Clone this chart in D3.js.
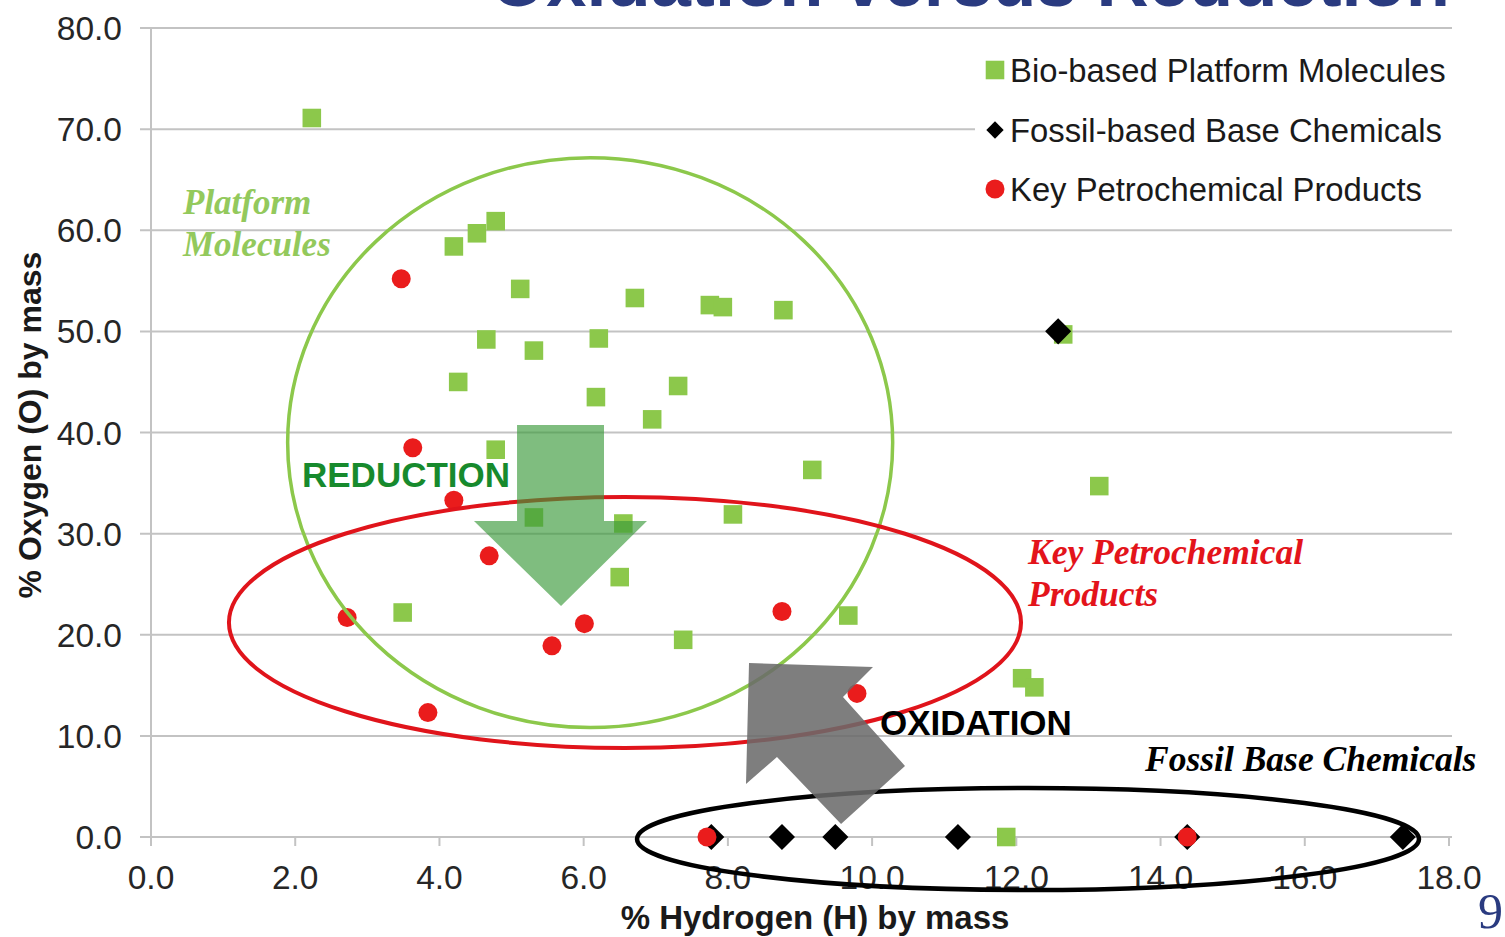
<!DOCTYPE html>
<html>
<head>
<meta charset="utf-8">
<script src="https://cdn.jsdelivr.net/npm/d3@7"></script>
<style>
	body { margin: 0; background: #fff; }
	svg { display: block; }
</style>
</head>
<body>
<svg id="chart"></svg>
<script>
// % H by mass, % O by mass
const bioPoints = [
	[2.23, 71.1], [4.2, 58.4], [4.52, 59.7], [4.78, 60.9], [5.12, 54.2],
	[6.71, 53.3], [7.75, 52.6], [7.93, 52.4], [8.77, 52.1], [4.65, 49.2],
	[5.31, 48.1], [6.21, 49.3], [4.26, 45.0], [6.17, 43.5], [7.31, 44.6],
	[6.95, 41.3], [4.78, 38.3], [9.17, 36.3], [13.15, 34.7], [5.31, 31.6],
	[6.55, 31.0], [8.07, 31.9], [6.5, 25.7], [3.49, 22.2], [7.38, 19.5],
	[9.67, 21.9], [12.08, 15.7], [12.25, 14.8], [11.86, 0.0], [12.65, 49.7]
];
const fossilPoints = [
	[12.58, 50.0], [7.77, 0.0], [8.75, 0.0], [9.49, 0.0],
	[11.19, 0.0], [14.37, 0.0], [17.36, 0.0]
];
const petroPoints = [
	[3.47, 55.2], [3.63, 38.5], [4.2, 33.3], [4.69, 27.8], [2.72, 21.7],
	[6.01, 21.1], [5.56, 18.9], [3.84, 12.3], [8.75, 22.3], [9.79, 14.2],
	[7.71, 0.0], [14.37, 0.0]
];
const seriesNames = [
	"Bio-based Platform Molecules",
	"Fossil-based Base Chemicals",
	"Key Petrochemical Products"
];
const xTicks = [0, 2, 4, 6, 8, 10, 12, 14, 16, 18];
const yTicks = [0, 10, 20, 30, 40, 50, 60, 70, 80];

const width = 1505;
const height = 937;
const sans = "'Liberation Sans', Arial, sans-serif";
const serif = "'Liberation Serif', 'Times New Roman', serif";
const green = "#8cc84b";
const red = "#ea1c1c";
const grid = "#c3c3c3";

const svg = d3.select("#chart").attr("width", width).attr("height", height);

const x = d3.scaleLinear().domain([0, 18]).range([151, 1449]);
const y = d3.scaleLinear().domain([0, 80]).range([837, 28]);

// title, cut off at the top of the slide
svg.append("text")
	.attr("x", 1450)
	.attr("y", 6)
	.attr("text-anchor", "end")
	.attr("font-family", sans)
	.attr("font-weight", "bold")
	.attr("font-size", 72)
	.attr("fill", "#2a3b80")
	.attr("textLength", 960)
	.attr("lengthAdjust", "spacingAndGlyphs")
	.text("Oxidation versus Reduction");

// grid + axes
svg.append("g")
	.selectAll("line")
	.data(yTicks)
	.join("line")
	.attr("x1", 140)
	.attr("x2", 1452)
	.attr("y1", d => y(d))
	.attr("y2", d => y(d))
	.attr("stroke", grid)
	.attr("stroke-width", 2);

svg.append("line")
	.attr("x1", x(0))
	.attr("x2", x(0))
	.attr("y1", y(80))
	.attr("y2", y(0) + 9)
	.attr("stroke", grid)
	.attr("stroke-width", 2);

svg.append("g")
	.selectAll("line")
	.data(xTicks.slice(1))
	.join("line")
	.attr("x1", d => x(d))
	.attr("x2", d => x(d))
	.attr("y1", y(0))
	.attr("y2", y(0) + 9)
	.attr("stroke", grid)
	.attr("stroke-width", 2);

svg.append("g")
	.selectAll("text")
	.data(yTicks)
	.join("text")
	.attr("x", 122)
	.attr("y", d => y(d))
	.attr("dy", "0.36em")
	.attr("text-anchor", "end")
	.attr("font-family", sans)
	.attr("font-size", 33.5)
	.attr("fill", "#262626")
	.text(d => d.toFixed(1));

svg.append("g")
	.selectAll("text")
	.data(xTicks)
	.join("text")
	.attr("x", d => x(d))
	.attr("y", 889)
	.attr("text-anchor", "middle")
	.attr("font-family", sans)
	.attr("font-size", 33.5)
	.attr("fill", "#262626")
	.text(d => d.toFixed(1));

svg.append("text")
	.attr("x", 815)
	.attr("y", 929)
	.attr("text-anchor", "middle")
	.attr("font-family", sans)
	.attr("font-weight", "bold")
	.attr("font-size", 33)
	.attr("fill", "#1a1a1a")
	.text("% Hydrogen (H) by mass");

svg.append("text")
	.attr("transform", "translate(41, 425) rotate(-90)")
	.attr("text-anchor", "middle")
	.attr("font-family", sans)
	.attr("font-weight", "bold")
	.attr("font-size", 32)
	.attr("fill", "#1a1a1a")
	.text("% Oxygen (O) by mass");

// region ellipses
const regions = [
	{ cx: 6.09, cy: 39.0, rx: 4.195, ry: 28.18, color: "#8cc84b", w: 3.5 },
	{ cx: 6.573, cy: 21.21, rx: 5.492, ry: 12.41, color: "#e0141b", w: 4 },
	{ cx: 12.162, cy: -0.2, rx: 5.422, ry: 5.04, color: "#000", w: 4.5 }
];

// markers
const square = d3.symbol().type(d3.symbolSquare).size(345);
const diamond = d3.symbol().type(d3.symbolSquare).size(340);

const marks = svg.append("g");

marks.selectAll(".bio")
	.data(bioPoints)
	.join("path")
	.attr("class", "bio")
	.attr("d", square)
	.attr("transform", d => `translate(${x(d[0])}, ${y(d[1])})`)
	.attr("fill", green);

marks.selectAll(".fossil")
	.data(fossilPoints)
	.join("path")
	.attr("class", "fossil")
	.attr("d", diamond)
	.attr("transform", d => `translate(${x(d[0])}, ${y(d[1])}) rotate(45)`)
	.attr("fill", "#000");

marks.selectAll(".petro")
	.data(petroPoints)
	.join("circle")
	.attr("class", "petro")
	.attr("cx", d => x(d[0]))
	.attr("cy", d => y(d[1]))
	.attr("r", 9.5)
	.attr("fill", red);

svg.append("g")
	.selectAll("ellipse")
	.data(regions)
	.join("ellipse")
	.attr("cx", d => x(d.cx))
	.attr("cy", d => y(d.cy))
	.attr("rx", d => x(d.rx) - x(0))
	.attr("ry", d => y(0) - y(d.ry))
	.attr("fill", "none")
	.attr("stroke", d => d.color)
	.attr("stroke-width", d => d.w);

// arrows
const reductionArrow = [
	[5.076, 40.74], [6.282, 40.74], [6.282, 31.25], [6.878, 31.25],
	[5.686, 22.84], [4.479, 31.25], [5.076, 31.25]
];
const oxidationArrow = [
	[8.293, 17.21], [10.012, 16.81], [9.596, 13.85], [10.456, 7.03],
	[9.569, 1.29], [8.681, 7.91], [8.251, 5.24]
];
const outline = d3.line().x(d => x(d[0])).y(d => y(d[1]));

svg.append("path")
	.attr("d", outline(reductionArrow) + "Z")
	.attr("fill", "#3a9a3a")
	.attr("fill-opacity", 0.65);

svg.append("path")
	.attr("d", outline(oxidationArrow) + "Z")
	.attr("fill", "#6b6b6b")
	.attr("fill-opacity", 0.87);

// annotations
const notes = [
	{ t: "REDUCTION", x: 302, y: 487, font: sans, italic: false, size: 35, color: "#178a2d" },
	{ t: "OXIDATION", x: 880, y: 735, font: sans, italic: false, size: 35, color: "#000" },
	{ t: "Platform", x: 183, y: 214, font: serif, italic: true, size: 35, color: "#93c95c" },
	{ t: "Molecules", x: 183, y: 256, font: serif, italic: true, size: 35, color: "#93c95c" },
	{ t: "Key Petrochemical", x: 1028, y: 564, font: serif, italic: true, size: 35.5, color: "#e3141b" },
	{ t: "Products", x: 1028, y: 606, font: serif, italic: true, size: 35.5, color: "#e3141b" },
	{ t: "Fossil Base Chemicals", x: 1145, y: 771, font: serif, italic: true, size: 35.5, color: "#000" }
];

svg.append("g")
	.selectAll("text")
	.data(notes)
	.join("text")
	.attr("x", d => d.x)
	.attr("y", d => d.y)
	.attr("font-family", d => d.font)
	.attr("font-weight", "bold")
	.attr("font-style", d => d.italic ? "italic" : "normal")
	.attr("font-size", d => d.size)
	.attr("fill", d => d.color)
	.text(d => d.t);

// legend
const legend = svg.append("g");
legend.append("rect")
	.attr("x", 975)
	.attr("y", 45)
	.attr("width", 478)
	.attr("height", 168)
	.attr("fill", "#fff");

const rowY = [70, 130, 189];
const rows = legend.selectAll(".row")
	.data(seriesNames)
	.join("g")
	.attr("class", "row")
	.attr("transform", (d, i) => `translate(995, ${rowY[i]})`);

rows.filter((d, i) => i === 0).append("path")
	.attr("d", square).attr("fill", green);
rows.filter((d, i) => i === 1).append("path")
	.attr("d", d3.symbol().type(d3.symbolSquare).size(150))
	.attr("transform", "rotate(45)")
	.attr("fill", "#000");
rows.filter((d, i) => i === 2).append("circle")
	.attr("r", 9.5).attr("fill", red);

rows.append("text")
	.attr("x", 15)
	.attr("dy", "0.36em")
	.attr("font-family", sans)
	.attr("font-size", 32.8)
	.attr("fill", "#1a1a1a")
	.text(d => d);

// slide number
svg.append("text")
	.attr("x", 1478)
	.attr("y", 928)
	.attr("font-family", serif)
	.attr("font-size", 50)
	.attr("fill", "#2a3b80")
	.text("9");
</script>
</body>
</html>
